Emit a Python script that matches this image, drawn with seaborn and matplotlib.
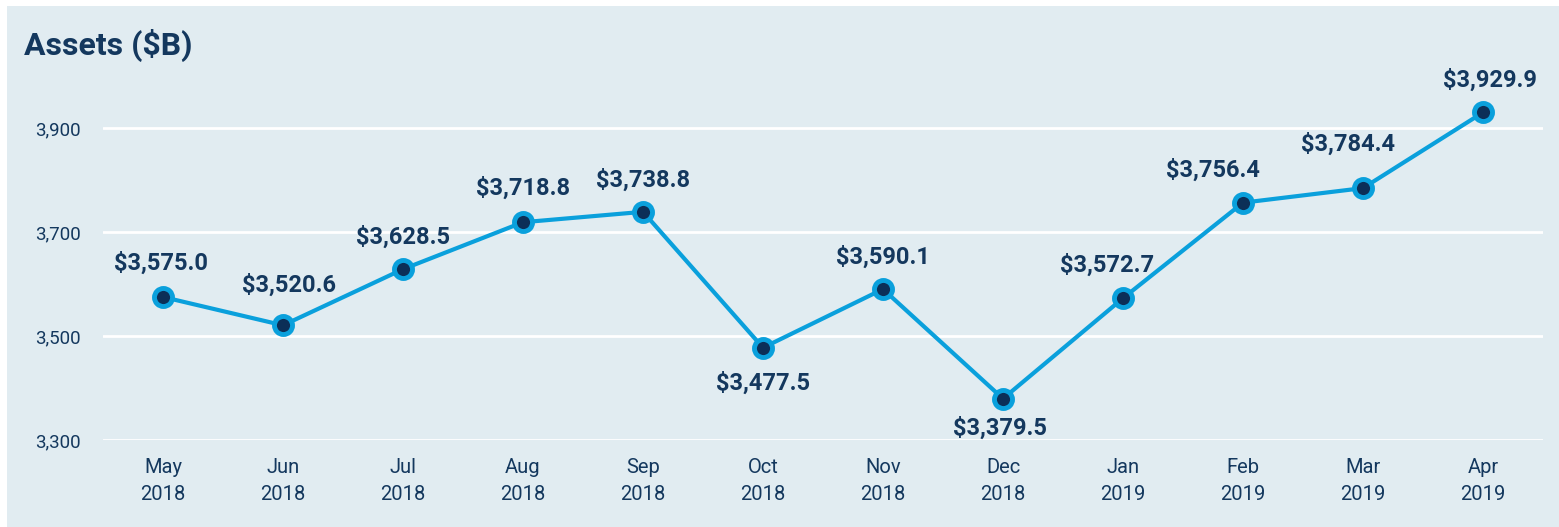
import matplotlib
matplotlib.use("Agg")
import matplotlib.pyplot as plt
import seaborn as sns
import pandas as pd
from matplotlib.ticker import FuncFormatter

months = ["May\n2018", "Jun\n2018", "Jul\n2018", "Aug\n2018", "Sep\n2018", "Oct\n2018",
          "Nov\n2018", "Dec\n2018", "Jan\n2019", "Feb\n2019", "Mar\n2019", "Apr\n2019"]
assets = [3575.0, 3520.6, 3628.5, 3718.8, 3738.8, 3477.5,
          3590.1, 3379.5, 3572.7, 3756.4, 3784.4, 3929.9]
label_below = [False, False, False, False, False, True,
               False, True, False, False, False, False]
y_ticks = [3300, 3500, 3700, 3900]

# label placement tweaks (pixels) so value labels clear the line
label_dx = [-2, 6, 0, 0, 0, 0, 0, -3, -16, -30, -15, 7]
label_dy = [34, 40, 32, 34, 32, 35, 32, 30, 33, 33, 44, 32]

BG = "#e1ecf1"
LINE = "#0aa0dc"
NAVY = "#0c2f57"
TEXT = "#14385e"

sns.set_theme(style="white")
plt.rcParams["font.family"] = ["Roboto", "DejaVu Sans"]

df = pd.DataFrame({"pos": range(len(months)), "assets": assets})

fig = plt.figure(figsize=(15.59, 5.27), dpi=100)
fig.patch.set_facecolor("white")
# light panel behind the whole chart
fig.patches.append(plt.Rectangle((7 / 1559, 0), 1 - 7 / 1559, 1 - 6 / 527,
                                 transform=fig.transFigure, facecolor=BG,
                                 edgecolor="none", zorder=-10))

ax = fig.add_axes([103 / 1559, 1 - 440 / 527, (1543 - 103) / 1559, (440 - 96.8) / 527])
ax.set_zorder(2)
ax.set_facecolor(BG)

sns.lineplot(data=df, x="pos", y="assets", ax=ax, color=LINE, linewidth=3,
             marker="o", markersize=13, markerfacecolor=NAVY,
             markeredgecolor=LINE, markeredgewidth=3.5, zorder=3, clip_on=False)

ax.set_xlim(-0.5, len(months) - 0.5)
ax.set_ylim(3300, 3960)
ax.set_yticks(y_ticks)
ax.yaxis.set_major_formatter(FuncFormatter(lambda v, _: f"{v:,.0f}"))
ax.set_xticks(range(len(months)))
ax.set_xticklabels(months, linespacing=1.55)
ax.tick_params(axis="both", length=0, labelcolor=TEXT)
ax.tick_params(axis="y", pad=16, labelsize=13.5)
ax.tick_params(axis="x", pad=13, labelsize=14.5)
ax.grid(axis="y", color="white", linewidth=2)
ax.set_axisbelow(True)
for s in ax.spines.values():
    s.set_visible(False)
ax.set_xlabel("")
ax.set_ylabel("")

px = 72 / fig.dpi
for i, (v, below) in enumerate(zip(assets, label_below)):
    dy = -label_dy[i] if below else label_dy[i]
    ax.annotate(f"${v:,.1f}", (i, v), xytext=(label_dx[i] * px, dy * px),
                textcoords="offset points", ha="center", va="center",
                fontsize=17, fontweight="bold", color=TEXT, clip_on=False)

fig.text(24 / 1559, 1 - 45 / 527, "Assets ($B)", fontsize=23, fontweight="bold",
         color=TEXT, ha="left", va="center")

fig.savefig("out.png", dpi=100, facecolor=fig.get_facecolor())
